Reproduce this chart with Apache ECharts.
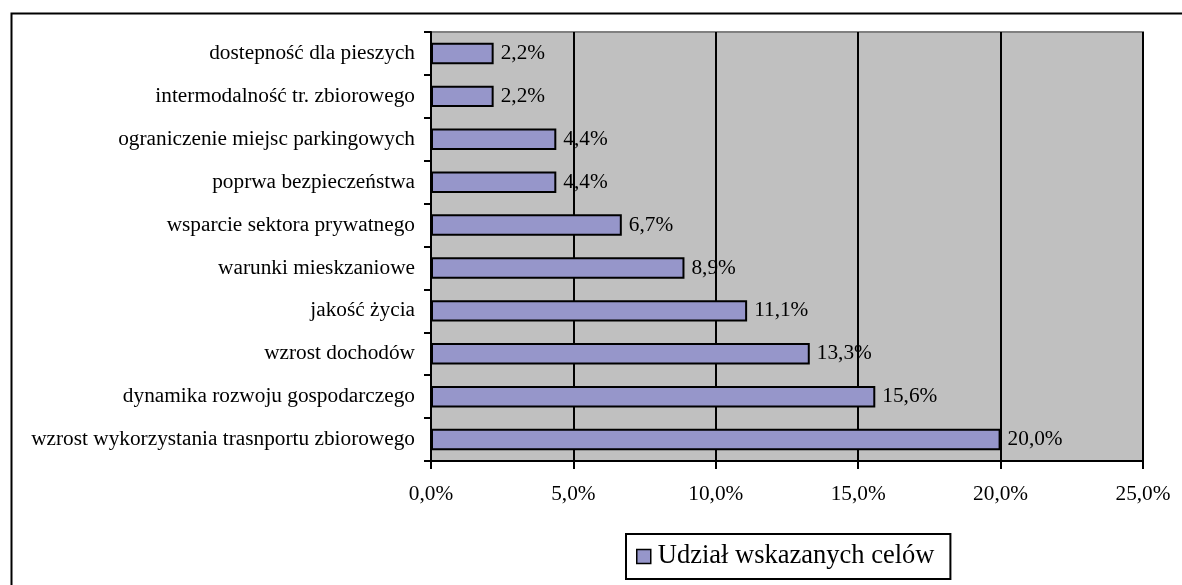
<!DOCTYPE html>
<html><head><meta charset="utf-8">
<script src="https://cdn.jsdelivr.net/npm/echarts@6/dist/echarts.min.js"></script>
<style>html,body{margin:0;padding:0;background:#fff}#c{width:1182px;height:585px}</style>
</head><body><div id="c"></div>
<script>
const categories = [
  'wzrost wykorzystania trasnportu zbiorowego',
  'dynamika rozwoju gospodarczego',
  'wzrost dochodów',
  'jakość życia',
  'warunki mieskzaniowe',
  'wsparcie sektora prywatnego',
  'poprwa bezpieczeństwa',
  'ograniczenie miejsc parkingowych',
  'intermodalność tr. zbiorowego',
  'dostepność dla pieszych'
];
const values = [20.0, 15.6, 13.3, 11.1, 8.9, 6.7, 4.4, 4.4, 2.2, 2.2];
const seriesName = 'Udział wskazanych celów';
const fmt = v => v.toFixed(1).replace('.', ',') + '%';
const font = 'Liberation Serif';
const chart = echarts.init(document.getElementById('c'));
chart.setOption({
  animation: false,
  textStyle: { fontFamily: font },
  graphic: [{ type: 'rect', left: 9, top: 11, shape: { width: 1200, height: 600 },
    style: { fill: 'none', stroke: '#000', lineWidth: 2 }, silent: true }],
  grid: { left: 431, right: 39, top: 32, bottom: 124, show: true,
    backgroundColor: '#C0C0C0', borderColor: '#808080', borderWidth: 2 },
  legend: { top: 534, left: 626, itemWidth: 14, itemHeight: 14, icon: 'rect',
    borderColor: '#000', borderWidth: 2, padding: [9, 16, 9, 10], itemGap: 4,
    textStyle: { fontFamily: font, fontSize: 26.5, color: '#000', padding: [0, 0, 0, 2] },
    itemStyle: { borderColor: '#000', borderWidth: 1.5 } },
  xAxis: { type: 'value', min: 0, max: 25, interval: 5,
    axisLine: { show: true, lineStyle: { color: '#000', width: 2 } },
    axisTick: { show: true, length: 8, lineStyle: { color: '#000', width: 2 } },
    splitLine: { show: true, lineStyle: { color: '#000', width: 2 } },
    axisLabel: { formatter: v => fmt(v), fontFamily: font, fontSize: 21.3, color: '#000', margin: 23 } },
  yAxis: { type: 'category', data: categories,
    axisLine: { show: true, lineStyle: { color: '#000', width: 2 } },
    axisTick: { show: true, length: 7, lineStyle: { color: '#000', width: 2 } },
    axisLabel: { fontFamily: font, fontSize: 21.3, color: '#000', margin: 16 } },
  series: [{ name: seriesName, type: 'bar', data: values, barCategoryGap: '50%',
    itemStyle: { color: '#9696CA', borderColor: '#000', borderWidth: 2 },
    label: { show: true, position: 'right', distance: 7, formatter: p => fmt(p.value),
      fontFamily: font, fontSize: 21.3, color: '#000' } }]
});
</script></body></html>
